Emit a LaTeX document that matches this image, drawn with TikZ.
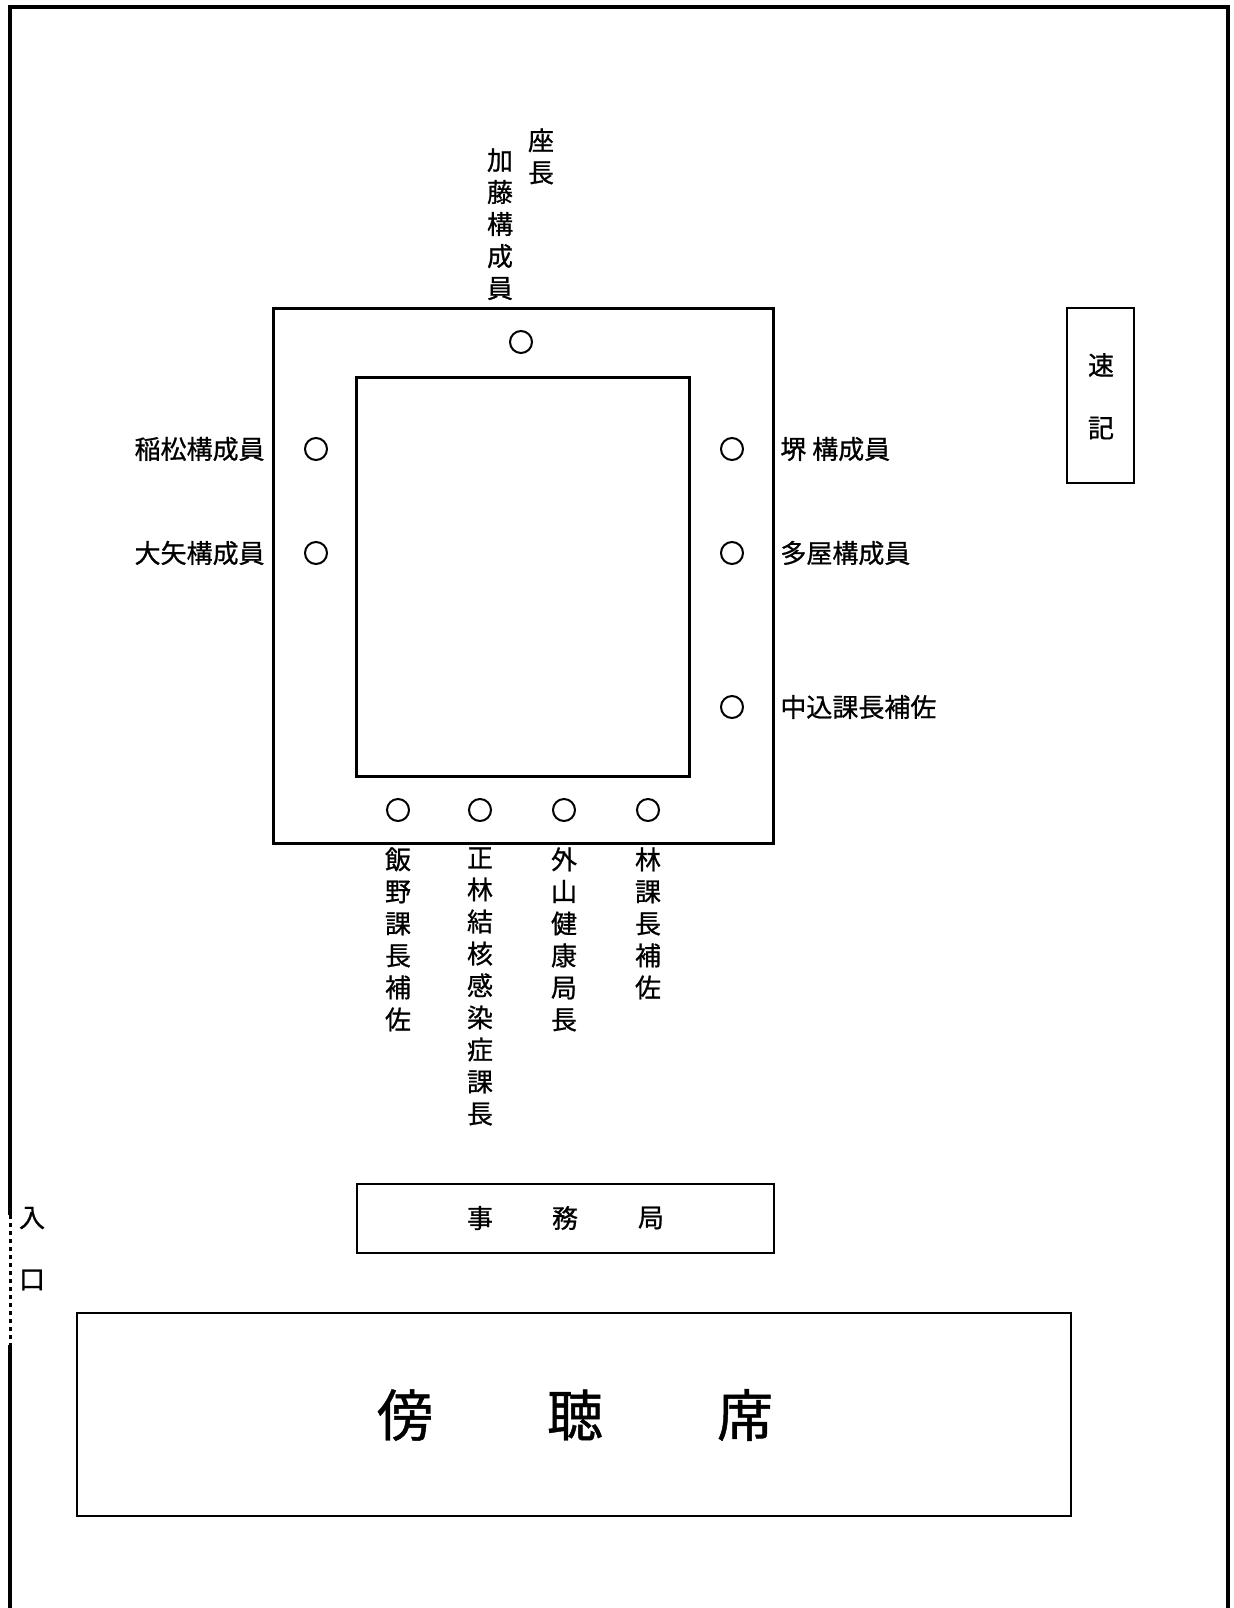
\documentclass[tikz,border=0pt]{standalone}
\usepackage{fontspec}
\newfontfamily\jp[FakeBold=0.8]{Noto Sans CJK JP}
\usepackage{tikz}
\usetikzlibrary{calc}

\begin{document}
\begin{tikzpicture}[x=0.5pt,y=-0.5pt,
	seat/.style={draw,circle,line width=1pt,minimum size=11pt,inner sep=0pt},
	lbl/.style={font=\jp\fontsize{13pt}{16pt}\selectfont,inner sep=0pt},
	vlbl/.style={lbl,align=center,anchor=north},
	big/.style={lbl,font=\jp\fontsize{28pt}{30pt}\selectfont},
	box/.style={draw,line width=1pt}]
	
	\useasboundingbox (0,0) rectangle (1233,1608);
	
	% room
	\coordinate (r1) at (10,1608);
	\coordinate (r2) at (10,7);
	\coordinate (r3) at (1228,7);
	\coordinate (r4) at (1228,1608);
	\coordinate (d1) at (10,1215);
	\coordinate (d2) at (10,1345);
	\draw[line width=2pt] (d1) -- (r2) -- (r3) -- (r4);
	\draw[line width=2pt] (d2) -- (r1);
	\draw[line width=1.5pt,dash pattern=on 2pt off 2pt] (d1) -- (d2);
	\node[lbl] (iri) at (32,1218) {入};
	\node[lbl] (guchi) at (32,1280) {口};
	
	% table
	\draw[line width=1.5pt] (273,308) rectangle (773,843);
	\draw[line width=1.5pt] (356,377) rectangle (689,776);
	
	% seats
	\node[seat] (s0) at (521,342) {};
	\node[seat] (l1) at (316,449) {};
	\node[seat] (l2) at (316,553) {};
	\node[seat] (r1s) at (732,449) {};
	\node[seat] (r2s) at (732,553) {};
	\node[seat] (r3s) at (732,707) {};
	\node[seat] (b1) at (398,810) {};
	\node[seat] (b2) at (480,810) {};
	\node[seat] (b3) at (564,810) {};
	\node[seat] (b4) at (648,810) {};
	
	% names
	\node[vlbl] (zacho) at (541,128) {座\\長};
	\node[vlbl] (kato) at (500,148) {加\\藤\\構\\成\\員};
	\node[lbl,anchor=east] (inamatsu) at (265,449) {稲松構成員};
	\node[lbl,anchor=east] (oya) at (265,553) {大矢構成員};
	\node[lbl,anchor=west] (sakai) at (780,449) {堺 構成員};
	\node[lbl,anchor=west] (taya) at (780,553) {多屋構成員};
	\node[lbl,anchor=west] (nakagome) at (780,707) {中込課長補佐};
	\node[vlbl] (iino) at (398,847) {飯\\野\\課\\長\\補\\佐};
	\node[vlbl] (masabayashi) at (480,847) {正\\林\\結\\核\\感\\染\\症\\課\\長};
	\node[vlbl] (toyama) at (564,847) {外\\山\\健\\康\\局\\長};
	\node[vlbl] (hayashi) at (648,847) {林\\課\\長\\補\\佐};
	
	% stenographer
	\draw[box] (1067,308) rectangle (1134,483);
	\node[lbl] (soku) at (1101,365) {速};
	\node[lbl] (ki) at (1101,428) {記};
	
	% secretariat
	\draw[box] (357,1184) rectangle (774,1253);
	\node[lbl] (ji) at (480,1218) {事};
	\node[lbl] (mu) at (565,1218) {務};
	\node[lbl] (kyoku) at (651,1218) {局};
	
	% gallery
	\draw[box] (77,1313) rectangle (1071,1516);
	\node[big] (bo) at (405,1415) {傍};
	\node[big] (cho) at (575,1415) {聴};
	\node[big] (seki) at (745,1415) {席};
	
\end{tikzpicture}
\end{document}
